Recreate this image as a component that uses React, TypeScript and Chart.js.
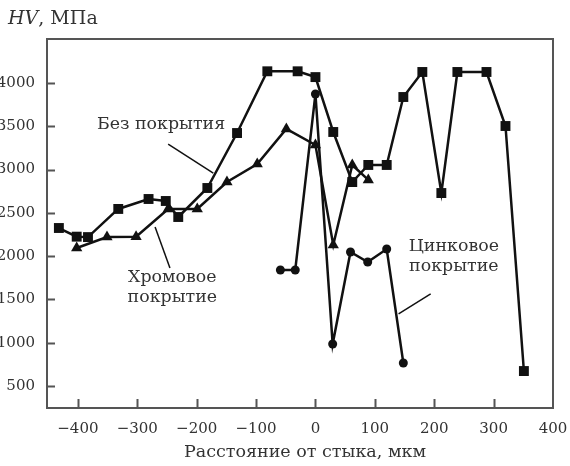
import React, { useEffect, useRef } from "react";
import { Chart, registerables } from "chart.js";

Chart.register(...registerables);

// Без покрытия (squares)
const bareX = [-432, -402, -383, -332, -281, -252, -231, -182, -132, -81, -30, 0, 30, 62, 89, 120, 148, 180, 212, 239, 288, 320, 351];
const bareY = [2325, 2225, 2220, 2545, 2660, 2637, 2452, 2787, 3422, 4135, 4135, 4068, 3434, 2856, 3053, 3053, 3838, 4127, 2729, 4127, 4127, 3503, 673];

// Хромовое покрытие (triangles)
const chromeX = [-402, -351, -302, -248, -199, -149, -98, -49, 0, 30, 62, 89];
const chromeY = [2094, 2221, 2225, 2545, 2545, 2856, 3064, 3469, 3284, 2129, 3053, 2880];

// Цинковое покрытие (circles)
const zincX = [-59, -34, 0, 29, 59, 88, 120, 148];
const zincY = [1840, 1840, 3873, 985, 2048, 1932, 2082, 766];

const xTicks = [-400, -300, -200, -100, 0, 100, 200, 300, 400];
const yTicks = [500, 1000, 1500, 2000, 2500, 3000, 3500, 4000];

const yTitleItalic = "HV";
const yTitleRest = ", МПа";
const xTitle = "Расстояние от стыка, мкм";

// annotation labels (anchored in data coordinates)
const labels = [
  { lines: ["Без покрытия"], x: -260, y: 3525, leader: [-248, 3295, -172, 2960] },
  { lines: ["Хромовое", "покрытие"], x: -241, y: 1640, leader: [-270, 2337, -245, 1863] },
  { lines: ["Цинковое", "покрытие"], x: 233, y: 2000, leader: [194, 1563, 140, 1332] },
];

const FONT = "DejaVu Serif";
const TEXT = "#333";
const LINE = "#111";

const toPts = (xs: number[], ys: number[]) => xs.map((x, i) => ({ x, y: ys[i] }));

const decor = {
  id: "decor",
  afterDraw(chart: any) {
    const { ctx, chartArea: a, scales } = chart;
    const xs = scales.x;
    const ys = scales.y;
    ctx.save();
    // frame
    ctx.strokeStyle = "#555";
    ctx.lineWidth = 2;
    ctx.strokeRect(a.left, a.top, a.right - a.left, a.bottom - a.top);
    // inward ticks
    ctx.beginPath();
    yTicks.forEach((v) => {
      const p = Math.round(ys.getPixelForValue(v)) + 0.5;
      ctx.moveTo(a.left, p);
      ctx.lineTo(a.left + 8, p);
    });
    xTicks.forEach((v) => {
      const p = Math.round(xs.getPixelForValue(v)) + 0.5;
      if (p < a.right - 2) {
        ctx.moveTo(p, a.bottom);
        ctx.lineTo(p, a.bottom - 9);
      }
    });
    ctx.stroke();

    // titles
    ctx.fillStyle = TEXT;
    ctx.textBaseline = "middle";
    ctx.textAlign = "left";
    ctx.font = `italic 19px ${FONT}`;
    ctx.fillText(yTitleItalic, 8, 19);
    const w = ctx.measureText(yTitleItalic).width;
    ctx.font = `19px ${FONT}`;
    ctx.fillText(yTitleRest, 8 + w, 19);

    ctx.textAlign = "center";
    ctx.font = `17.5px ${FONT}`;
    ctx.fillText(xTitle, 305, 452);

    // annotations
    ctx.font = `17.4px ${FONT}`;
    labels.forEach((l) => {
      const cx = xs.getPixelForValue(l.x);
      const cy = ys.getPixelForValue(l.y);
      const lh = 20;
      l.lines.forEach((t, i) => {
        ctx.fillText(t, cx, cy + (i - (l.lines.length - 1) / 2) * lh);
      });
      ctx.beginPath();
      ctx.strokeStyle = LINE;
      ctx.lineWidth = 1.5;
      ctx.moveTo(xs.getPixelForValue(l.leader[0]), ys.getPixelForValue(l.leader[1]));
      ctx.lineTo(xs.getPixelForValue(l.leader[2]), ys.getPixelForValue(l.leader[3]));
      ctx.stroke();
    });
    ctx.restore();
  },
};

export default function App() {
  const ref = useRef<HTMLCanvasElement | null>(null);
  useEffect(() => {
    if (!ref.current) return;
    const common = {
      borderColor: LINE,
      backgroundColor: LINE,
      borderWidth: 2.5,
      showLine: true,
      fill: false,
      tension: 0,
      pointBorderWidth: 0,
    };
    const chart = new Chart(ref.current, {
      type: "scatter",
      data: {
        datasets: [
          { ...common, label: "Без покрытия", data: toPts(bareX, bareY), pointStyle: "rect", pointRadius: 7 },
          { ...common, label: "Хромовое покрытие", data: toPts(chromeX, chromeY), pointStyle: "triangle", pointRadius: 6.5 },
          { ...common, label: "Цинковое покрытие", data: toPts(zincX, zincY), pointStyle: "circle", pointRadius: 4.5 },
        ],
      } as any,
      options: {
        animation: false,
        responsive: false,
        events: [],
        layout: { padding: { top: 39, right: 17, left: 0, bottom: 0 } },
        plugins: { legend: { display: false }, tooltip: { enabled: false } },
        scales: {
          x: {
            type: "linear",
            min: -452,
            max: 400,
            grid: { display: false, drawTicks: false },
            border: { display: false },
            afterBuildTicks: (s: any) => { s.ticks = xTicks.map((v) => ({ value: v })); },
            afterFit: (s: any) => {
              s.height = 58;
              s.paddingLeft = 0;
              s.paddingRight = 0;
            },
            ticks: {
              padding: 12,
              color: TEXT,
              font: { family: FONT, size: 15 },
              callback: (v: any) => (v < 0 ? "−" + Math.abs(v) : String(v)),
              maxRotation: 0,
              autoSkip: false,
            },
          },
          y: {
            type: "linear",
            min: 246,
            max: 4508,
            grid: { display: false, drawTicks: false },
            border: { display: false },
            afterBuildTicks: (s: any) => { s.ticks = yTicks.map((v) => ({ value: v })); },
            afterFit: (s: any) => {
              s.width = 47;
              s.paddingTop = 0;
              s.paddingBottom = 0;
            },
            ticks: {
              padding: 12,
              color: TEXT,
              font: { family: FONT, size: 15 },
              callback: (v: any) => String(v),
              autoSkip: false,
            },
          },
        },
      } as any,
      plugins: [decor],
    });
    return () => chart.destroy();
  }, []);
  return (
    <div style={{ position: "fixed", left: 0, top: 0, width: 570, height: 466, background: "#fff" }}>
      <canvas ref={ref} width={570} height={466} style={{ display: "block", width: 570, height: 466 }} />
    </div>
  );
}
